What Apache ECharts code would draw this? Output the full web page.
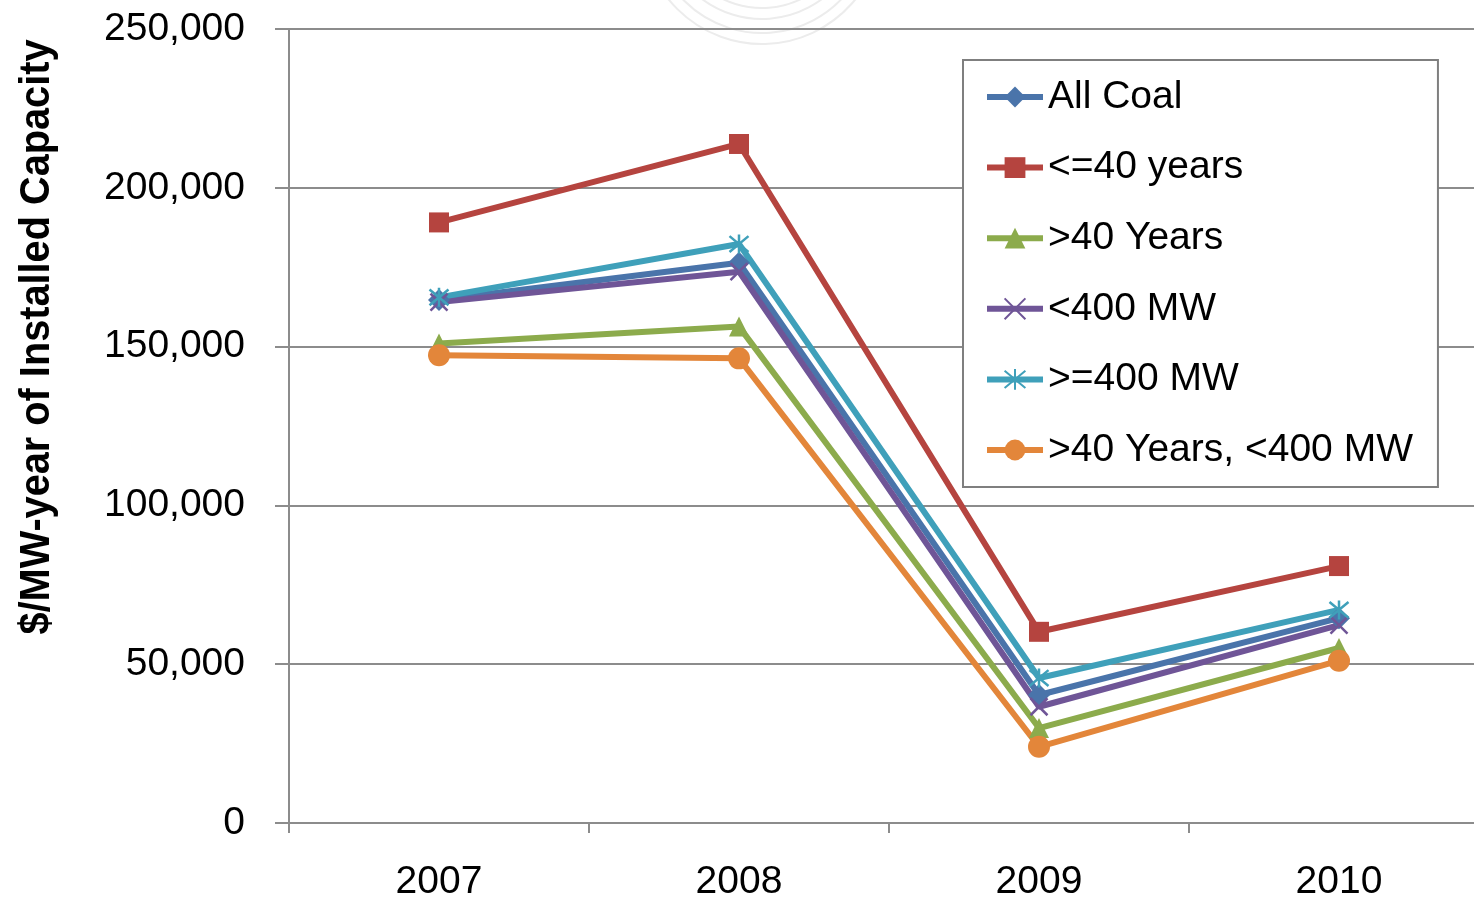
<!DOCTYPE html>
<html>
<head>
<meta charset="utf-8">
<script src="https://cdn.jsdelivr.net/npm/echarts@6/dist/echarts.min.js"></script>
<style>
  html, body { margin: 0; padding: 0; background: #fff; }
  #chart { width: 1474px; height: 904px; }
</style>
</head>
<body>
<div id="chart"></div>
<script>
// Years on the category axis
const years = ['2007', '2008', '2009', '2010'];

// Cost per MW-year of installed capacity, by fleet segment
const allCoal        = [164700, 176400, 40300, 64500];
const under40Years   = [189100, 213800, 60200, 80900];
const over40Years    = [151000, 156300, 29900, 55100];
const under400MW     = [164000, 173600, 36600, 62300];
const atLeast400MW   = [165500, 182300, 45650, 67100];
const over40Under400 = [147300, 146300, 24000, 51100];

// Value axis ticks
const yMin = 0;
const yMax = 250000;
const yStep = 50000;

const FONT = '"Liberation Sans", Arial, sans-serif';
const GRID_GRAY = '#8c8c8c';
const TITLE = '$/MW-year of Installed Capacity';
const TITLE_FONT = 'bold 42px ' + FONT;

const CROSS = 'path://M0,0L10,10M10,0L0,10';
const STAR = 'path://M0,0L10,10M10,0L0,10M5,-1L5,11';

// Narrow the rotated axis title to a condensed look of fixed length
function titleScale(targetLength) {
  const ctx = document.createElement('canvas').getContext('2d');
  ctx.font = TITLE_FONT;
  return targetLength / ctx.measureText(TITLE).width;
}

function lineSeries(name, data, color, symbol, size, stroked) {
  return {
    name: name,
    type: 'line',
    data: data,
    symbol: symbol,
    symbolSize: size,
    showAllSymbol: true,
    lineStyle: { color: color, width: 6 },
    itemStyle: stroked
      ? { color: color, borderColor: color, borderWidth: 2.5 }
      : { color: color },
    emphasis: { disabled: true },
    animation: false
  };
}

const chart = echarts.init(document.getElementById('chart'), null, { renderer: 'canvas' });

chart.setOption({
  backgroundColor: '#ffffff',
  animation: false,
  // the plot runs past the right edge of the canvas
  grid: { left: 289, top: 29, bottom: 81, right: -15, containLabel: false, outerBoundsMode: 'none' },
  xAxis: {
    type: 'category',
    data: years,
    boundaryGap: true,
    axisLine: { lineStyle: { color: GRID_GRAY, width: 2 } },
    axisTick: { show: true, length: 10, lineStyle: { color: GRID_GRAY, width: 2 } },
    axisLabel: { color: '#000', fontFamily: FONT, fontSize: 39, margin: 40 },
    splitLine: { show: false }
  },
  yAxis: {
    type: 'value',
    min: yMin,
    max: yMax,
    interval: yStep,
    axisLine: { show: true, lineStyle: { color: GRID_GRAY, width: 2 } },
    axisTick: { show: true, length: 14, lineStyle: { color: GRID_GRAY, width: 2 } },
    axisLabel: {
      color: '#000', fontFamily: FONT, fontSize: 39, margin: 44,
      formatter: v => v.toLocaleString('en-US')
    },
    splitLine: { show: true, lineStyle: { color: GRID_GRAY, width: 2 } }
  },
  legend: {
    orient: 'vertical',
    left: 963,
    top: 60,
    padding: [12, 25, 12, 21],
    itemWidth: 56,
    itemHeight: 26,
    itemGap: 20.6,
    backgroundColor: '#ffffff',
    borderColor: '#7f7f7f',
    borderWidth: 2,
    borderRadius: 0,
    selectedMode: false,
    lineStyle: { width: 6 },
    textStyle: { color: '#000', fontFamily: FONT, fontSize: 39, lineHeight: 50 },
    data: ['All Coal', '<=40 years', '>40 Years', '<400 MW', '>=400 MW', '>40 Years, <400 MW']
  },
  graphic: [
    {
      type: 'text',
      x: 37, y: 337,
      rotation: Math.PI / 2,
      scaleX: titleScale(595),
      style: {
        text: TITLE,
        fill: '#000',
        font: TITLE_FONT,
        align: 'center',
        verticalAlign: 'middle'
      },
      z: 10
    },
    // faint seal drawn behind the top of the plot
    { type: 'arc', z: -1, shape: { cx: 762, cy: -76, r: 120, startAngle: 0.35, endAngle: Math.PI - 0.35 }, style: { stroke: '#ececec', fill: null, lineWidth: 2 } },
    { type: 'arc', z: -1, shape: { cx: 762, cy: -77, r: 110, startAngle: 0.3, endAngle: Math.PI - 0.3 }, style: { stroke: '#ececec', fill: null, lineWidth: 2 } },
    { type: 'arc', z: -1, shape: { cx: 762, cy: -81, r: 100, startAngle: 0.3, endAngle: Math.PI - 0.3 }, style: { stroke: '#ececec', fill: null, lineWidth: 2 } },
    { type: 'arc', z: -1, shape: { cx: 762, cy: -82, r: 90, startAngle: 0.3, endAngle: Math.PI - 0.3 }, style: { stroke: '#ececec', fill: null, lineWidth: 2 } }
  ],
  series: [
    lineSeries('All Coal', allCoal, '#4a74aa', 'diamond', 22, false),
    lineSeries('<=40 years', under40Years, '#b5443f', 'rect', 20, false),
    lineSeries('>40 Years', over40Years, '#8cab4c', 'triangle', 20, false),
    lineSeries('<400 MW', under400MW, '#6f5597', CROSS, 17, true),
    lineSeries('>=400 MW', atLeast400MW, '#3fa0ba', STAR, 19, true),
    lineSeries('>40 Years, <400 MW', over40Under400, '#e3863a', 'circle', 22, false)
  ]
});
</script>
</body>
</html>
